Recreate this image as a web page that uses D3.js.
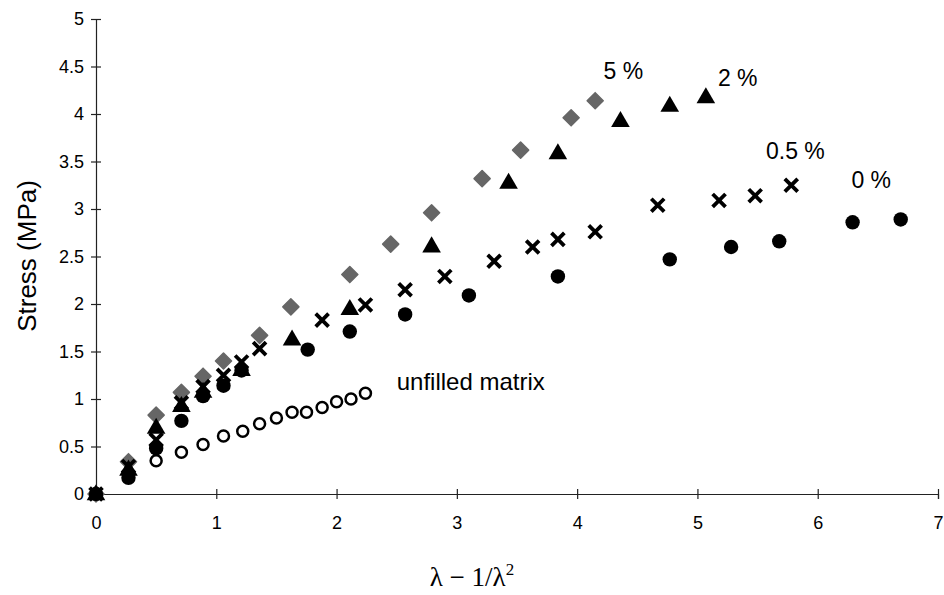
<!DOCTYPE html>
<html>
<head>
<meta charset="utf-8">
<script src="https://cdn.jsdelivr.net/npm/d3@7"></script>
<style>
  html, body { margin: 0; padding: 0; background: #fff; }
  svg text { font-family: "Liberation Sans", Arial, sans-serif; fill: #000; }
</style>
</head>
<body>
<svg id="chart" width="944" height="595"></svg>
<script>
// Stress vs. (λ − 1/λ²) for matrices with different filler contents
const filler0X = [0, 0.27, 0.50, 0.71, 0.89, 1.06, 1.21, 1.76, 2.11, 2.57, 3.10, 3.84, 4.77, 5.28, 5.68, 6.29, 6.69];
const filler0Y = [0, 0.17, 0.48, 0.77, 1.03, 1.14, 1.30, 1.52, 1.71, 1.89, 2.09, 2.29, 2.47, 2.60, 2.66, 2.86, 2.89];

const filler05X = [0, 0.27, 0.50, 0.71, 0.89, 1.06, 1.21, 1.36, 1.88, 2.24, 2.57, 2.90, 3.31, 3.63, 3.84, 4.15, 4.67, 5.18, 5.48, 5.78];
const filler05Y = [0, 0.29, 0.57, 0.96, 1.13, 1.25, 1.39, 1.53, 1.83, 1.99, 2.15, 2.29, 2.45, 2.60, 2.68, 2.76, 3.04, 3.09, 3.14, 3.25];

const filler2X = [0, 0.27, 0.50, 0.71, 0.89, 1.21, 1.63, 2.11, 2.79, 3.43, 3.84, 4.36, 4.77, 5.07];
const filler2Y = [0, 0.26, 0.70, 0.93, 1.08, 1.31, 1.63, 1.95, 2.61, 3.28, 3.59, 3.93, 4.09, 4.18];

const filler5X = [0, 0.27, 0.50, 0.71, 0.89, 1.06, 1.36, 1.62, 2.11, 2.45, 2.79, 3.21, 3.53, 3.95, 4.15];
const filler5Y = [0, 0.34, 0.83, 1.07, 1.24, 1.40, 1.67, 1.97, 2.31, 2.63, 2.96, 3.32, 3.62, 3.96, 4.14];

const unfilledX = [0, 0.50, 0.71, 0.89, 1.06, 1.22, 1.36, 1.50, 1.63, 1.75, 1.88, 2.00, 2.12, 2.24];
const unfilledY = [0, 0.35, 0.44, 0.52, 0.61, 0.66, 0.74, 0.80, 0.86, 0.86, 0.91, 0.97, 1.00, 1.06];

const xTicks = [0, 1, 2, 3, 4, 5, 6, 7];
const yTicks = [0, 0.5, 1, 1.5, 2, 2.5, 3, 3.5, 4, 4.5, 5];

const seriesLabels = [
  { text: "5 %", x: 4.22, y: 4.37 },
  { text: "2 %", x: 5.17, y: 4.30 },
  { text: "0.5 %", x: 5.57, y: 3.53 },
  { text: "0 %", x: 6.28, y: 3.22 },
  { text: "unfilled matrix", x: 2.50, y: 1.09 }
];

const zip = (xs, ys) => xs.map((x, i) => ({ x, y: ys[i] }));

const svg = d3.select("#chart");
const x = d3.scaleLinear().domain([0, 7]).range([96, 938]);
const y = d3.scaleLinear().domain([0, 5]).range([494, 19]);

// axes with ticks crossing the axis line
const xAxis = svg.append("g")
  .attr("transform", `translate(0,${y(0)})`)
  .call(d3.axisBottom(x).tickValues(xTicks).tickSizeOuter(0).tickSize(5).tickFormat(d => d));
xAxis.selectAll(".tick line").attr("y1", -5).attr("y2", 5);
xAxis.selectAll(".tick text").attr("y", 22).attr("dy", "0.71em").style("font-size", "18px");

const yAxis = svg.append("g")
  .attr("transform", `translate(${x(0)},0)`)
  .call(d3.axisLeft(y).tickValues(yTicks).tickSizeOuter(0).tickSize(5).tickFormat(d => d));
yAxis.selectAll(".tick line").attr("x1", -5).attr("x2", 5);
yAxis.selectAll(".tick text").attr("x", -12).style("font-size", "18px");

svg.selectAll(".domain, .tick line").attr("stroke", "#222").attr("stroke-width", 1.2);

// axis titles
svg.append("text")
  .attr("transform", `translate(36,256) rotate(-90)`)
  .attr("text-anchor", "middle")
  .style("font-size", "26px")
  .text("Stress (MPa)");

const xt = svg.append("text")
  .attr("x", 472).attr("y", 586)
  .attr("text-anchor", "middle")
  .style("font-family", "'Liberation Serif', 'Times New Roman', serif")
  .style("font-size", "27px");
xt.append("tspan").text("λ − 1/λ");
xt.append("tspan").attr("dy", -11).style("font-size", "17px").text("2");

// markers
const plot = svg.append("g");

plot.selectAll("circle.unfilled").data(zip(unfilledX, unfilledY)).join("circle")
  .attr("class", "unfilled")
  .attr("cx", d => x(d.x)).attr("cy", d => y(d.y)).attr("r", 5.5)
  .attr("fill", "#fff").attr("stroke", "#000").attr("stroke-width", 2.5);

const diamond = d3.symbol().type(d3.symbolDiamond2).size(165);
plot.selectAll("path.f5").data(zip(filler5X, filler5Y)).join("path")
  .attr("class", "f5")
  .attr("d", diamond)
  .attr("transform", d => `translate(${x(d.x)},${y(d.y)})`)
  .attr("fill", "#666")
  .attr("stroke", "#666").attr("stroke-width", 1.5).attr("stroke-linejoin", "round");

const tri = d3.symbol().type(d3.symbolTriangle).size(150);
plot.selectAll("path.f2").data(zip(filler2X, filler2Y)).join("path")
  .attr("class", "f2")
  .attr("d", tri)
  .attr("transform", d => `translate(${x(d.x)},${y(d.y) + 1})`)
  .attr("fill", "#000");

const cross = d3.symbol().type(d3.symbolX).size(110);
plot.selectAll("path.f05").data(zip(filler05X, filler05Y)).join("path")
  .attr("class", "f05")
  .attr("d", cross)
  .attr("transform", d => `translate(${x(d.x)},${y(d.y)})`)
  .attr("fill", "none").attr("stroke", "#000").attr("stroke-width", 3.8);

plot.selectAll("circle.f0").data(zip(filler0X, filler0Y)).join("circle")
  .attr("class", "f0")
  .attr("cx", d => x(d.x)).attr("cy", d => y(d.y)).attr("r", 7.2)
  .attr("fill", "#000");

// series labels
svg.selectAll("text.series").data(seriesLabels).join("text")
  .attr("class", "series")
  .attr("x", d => x(d.x)).attr("y", d => y(d.y))
  .style("font-size", d => d.text === "unfilled matrix" ? "24px" : "23px")
  .text(d => d.text);
</script>
</body>
</html>
